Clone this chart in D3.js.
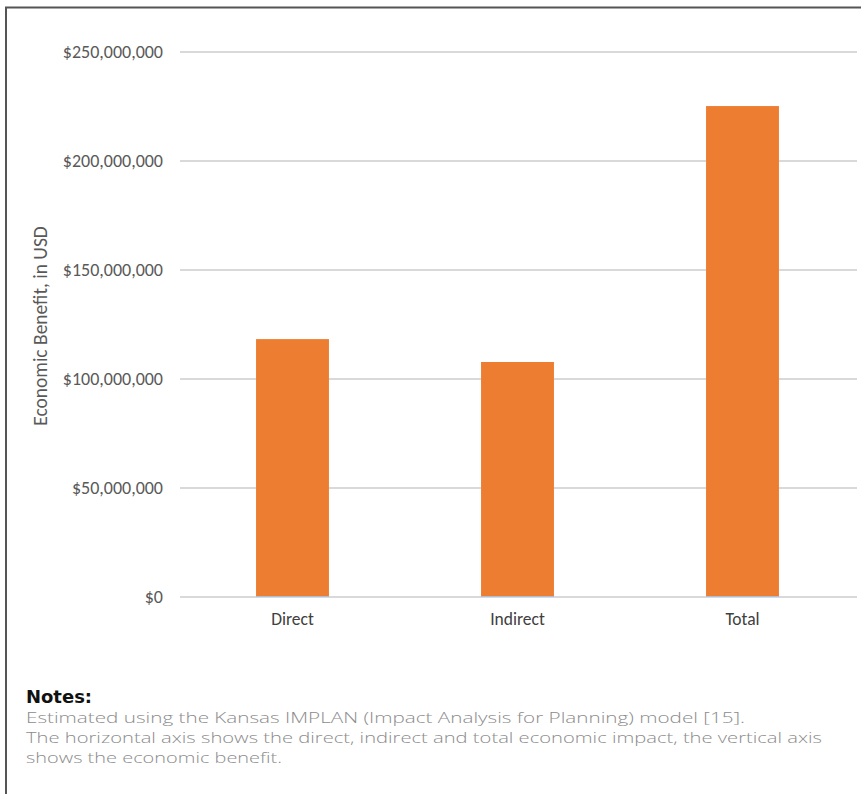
<!DOCTYPE html>
<html><head><meta charset="utf-8">
<script src="https://cdn.jsdelivr.net/npm/d3@7"></script>
<style>body{margin:0;background:#fff}svg{display:block}</style>
</head><body>
<svg id="c" width="861" height="794"></svg>
<script>
const categories = ["Direct", "Indirect", "Total"];
const values = [118300000, 107800000, 225200000];
const yTicks = [0, 50000000, 100000000, 150000000, 200000000, 250000000];
const yLabel = "Economic Benefit, in USD";
const notesTitle = "Notes:";
const notesLines = [
  "Estimated using the Kansas IMPLAN (Impact Analysis for Planning) model [15].",
  "The horizontal axis shows the direct, indirect and total economic impact, the vertical axis",
  "shows the economic benefit."
];

const svg = d3.select("#c");
const W = 861, H = 794;
const FONT = "Carlito, Calibri, 'Liberation Sans', sans-serif";

// frame
svg.append("line").attr("x1",5).attr("x2",W).attr("y1",7.5).attr("y2",7.5).attr("stroke","#555").attr("stroke-width",2);
svg.append("line").attr("x1",6).attr("x2",6).attr("y1",7).attr("y2",H).attr("stroke","#555").attr("stroke-width",2);

const x = d3.scaleBand().domain(categories).range([180, 855]).paddingInner(0.676).paddingOuter(0.338);
const y = d3.scaleLinear().domain([0, 250000000]).range([597, 52]);

const fmt = v => "$" + d3.format(",")(v);

// gridlines
svg.append("g").selectAll("line").data(yTicks).join("line")
  .attr("x1",180).attr("x2",857)
  .attr("y1",d=>y(d)).attr("y2",d=>y(d))
  .attr("stroke","#d9d9d9").attr("stroke-width",2);

// y axis labels
const yAxis = d3.axisLeft(y).tickValues(yTicks).tickFormat(fmt).tickSize(0).tickPadding(0);
const ya = svg.append("g").attr("transform","translate(163,0)").call(yAxis);
ya.select(".domain").remove();
ya.selectAll("text").attr("font-family",FONT)
  .attr("font-size",18).attr("fill","#595959");

// bars
svg.append("g").selectAll("rect").data(values).join("rect")
  .attr("x",(d,i)=>x(categories[i])).attr("width",x.bandwidth())
  .attr("y",d=>y(d)).attr("height",d=>y(0)-y(d))
  .attr("fill","#ED7D31");
// faint blue base of bars
svg.append("g").selectAll("line").data(values).join("line")
  .attr("x1",(d,i)=>x(categories[i])).attr("x2",(d,i)=>x(categories[i])+x.bandwidth())
  .attr("y1",y(0)-0.5).attr("y2",y(0)-0.5).attr("stroke","#a9bfe0").attr("stroke-width",1);

// x axis labels
const xAxis = d3.axisBottom(x).tickSize(0).tickPadding(0);
const xa = svg.append("g").attr("transform","translate(0,613)").call(xAxis);
xa.select(".domain").remove();
xa.selectAll("text").attr("font-family",FONT)
  .attr("font-size",17.5).attr("fill","#404040");

// y label
svg.append("text").attr("transform","translate(47,326) rotate(-90)")
  .attr("text-anchor","middle").attr("font-family",FONT)
  .attr("font-size",19.5).attr("fill","#595959").text(yLabel);

// notes
svg.append("text").attr("x",26).attr("y",703).attr("font-family","'DejaVu Sans', Lato, sans-serif")
  .attr("font-weight","bold").attr("font-size",18).attr("fill","#111")
  .attr("textLength",66).attr("lengthAdjust","spacingAndGlyphs").text(notesTitle);
const targets = [719, 796, 256];
notesLines.forEach((t,i)=>{
  svg.append("text").attr("x",26).attr("y",723+i*20)
    .attr("font-family","'Open Sans', Lato, sans-serif").attr("font-weight",300)
    .attr("font-size",14.5).attr("fill","#8c8c8c")
    .attr("textLength",targets[i]).attr("lengthAdjust","spacingAndGlyphs").text(t);
});
</script>
</body></html>
